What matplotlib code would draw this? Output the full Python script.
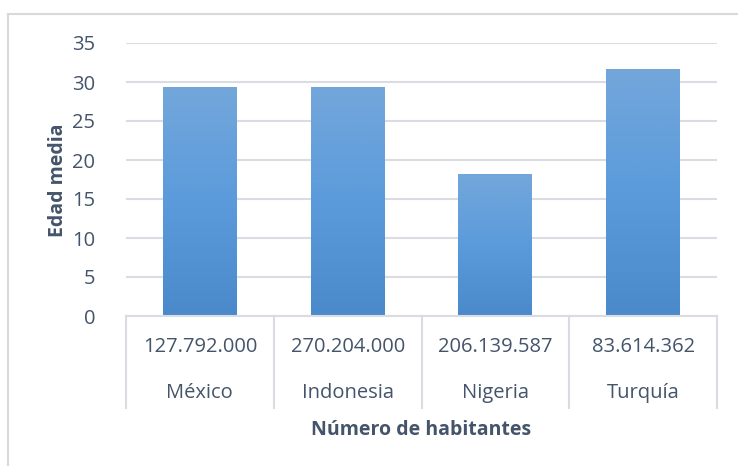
import numpy as np
import matplotlib.pyplot as plt
from matplotlib.colors import LinearSegmentedColormap
from matplotlib.transforms import blended_transform_factory
from matplotlib.lines import Line2D

# Datos: edad media por país y número de habitantes
paises = ['México', 'Indonesia', 'Nigeria', 'Turquía']
habitantes = ['127.792.000', '270.204.000', '206.139.587', '83.614.362']
edad_media = [29.3, 29.3, 18.2, 31.7]
yticks = [0, 5, 10, 15, 20, 25, 30, 35]

texto = '#44546A'
rejilla = '#D9DDE3'

plt.rcParams['font.family'] = ['Open Sans', 'DejaVu Sans']

fig = plt.figure(figsize=(7.38, 4.66), dpi=100)
ax = fig.add_axes([126 / 738, 150 / 466, 591 / 738, 273 / 466])

# Marco exterior del gráfico (solo arriba e izquierda visibles)
fig.add_artist(Line2D([8 / 738, 1.0], [1 - 14 / 466] * 2, color='#D9D9D9', lw=1.5))
fig.add_artist(Line2D([8 / 738] * 2, [0, 1 - 14 / 466], color='#D9D9D9', lw=1.5))

x = np.arange(len(paises))
barras = ax.bar(x, edad_media, width=0.5, color='none', zorder=2)

# Degradado vertical en cada barra
cmap = LinearSegmentedColormap.from_list('azul', ['#4A8ACB', '#5B9BDB', '#73A7DB'])
grad = np.linspace(0, 1, 256).reshape(-1, 1)
for b in barras:
    x0, y0 = b.get_x(), b.get_y()
    im = ax.imshow(grad, cmap=cmap, origin='lower', aspect='auto',
                   extent=[x0, x0 + b.get_width(), y0, y0 + b.get_height()], zorder=2)
    im.set_clip_path(b)

ax.set_xlim(-0.5, len(paises) - 0.5)
ax.set_ylim(0, 35)
ax.set_yticks(yticks)
ax.yaxis.grid(True, color=rejilla, lw=1.5, zorder=0)
ax.set_axisbelow(True)
ax.tick_params(axis='y', length=0, pad=22, labelsize=14.5, labelcolor=texto)
ax.tick_params(axis='x', length=0, labelbottom=False)
for s in ['top', 'right', 'left']:
    ax.spines[s].set_visible(False)
ax.spines['bottom'].set_color(rejilla)
ax.spines['bottom'].set_linewidth(1.5)

# Eje de categorías en dos niveles
tr = blended_transform_factory(ax.transData, ax.transAxes)
for bx in np.arange(-0.5, len(paises), 1.0):
    ax.add_line(Line2D([bx, bx], [0, -0.337], transform=tr, color=rejilla,
                       lw=1.5, clip_on=False))
for i in range(len(paises)):
    ax.text(i, -0.115, habitantes[i], transform=tr, ha='center', va='center',
            fontsize=14.5, color=texto)
    ax.text(i, -0.282, paises[i], transform=tr, ha='center', va='center',
            fontsize=14.5, color=texto)

ax.text(0.5, -0.418, 'Número de habitantes', transform=ax.transAxes, ha='center',
        va='center', fontsize=14, fontweight='bold', color=texto)
fig.text(58 / 738, 1 - 180 / 466, 'Edad media', rotation=90, ha='center',
         va='center', fontsize=14, fontweight='bold', color=texto)

fig.savefig('out.png', dpi=100)
